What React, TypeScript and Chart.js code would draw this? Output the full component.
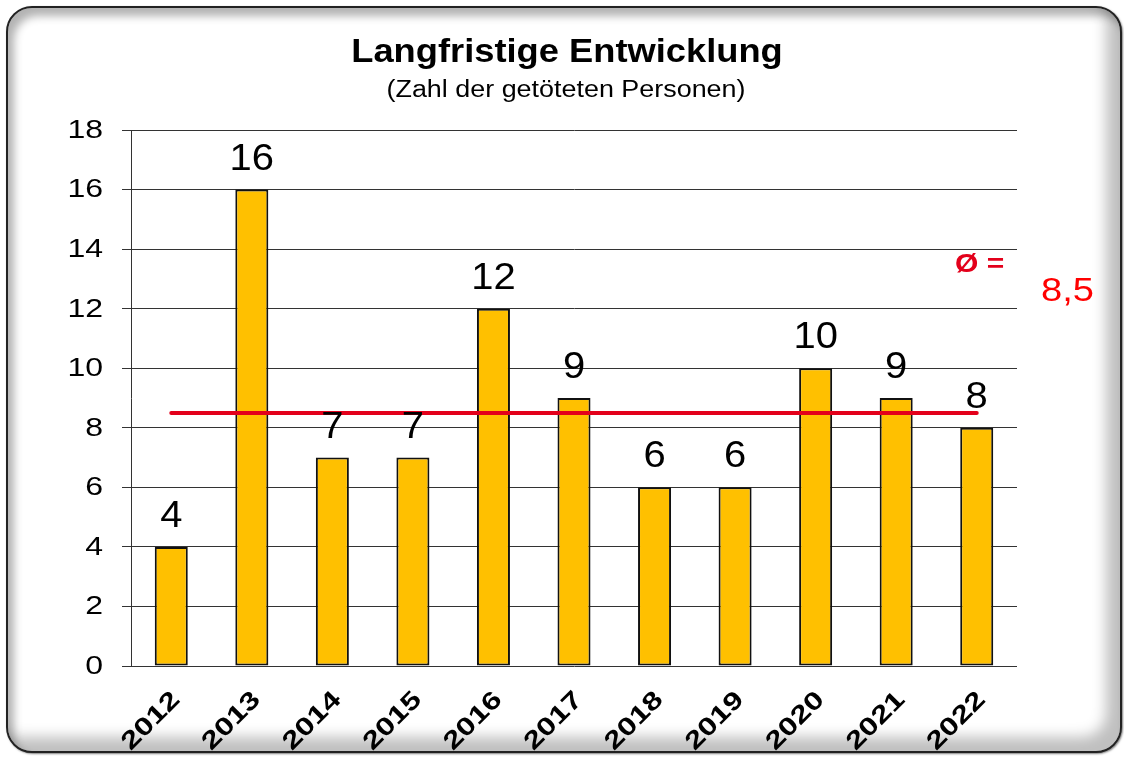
import React, { useEffect, useRef } from "react";
import { Chart, registerables } from "chart.js";

Chart.register(...registerables);

const years = ["2012", "2013", "2014", "2015", "2016", "2017", "2018", "2019", "2020", "2021", "2022"];
const killed = [4, 16, 7, 7, 12, 9, 6, 6, 10, 9, 8];
const averageLine = [8.5, 8.5, 8.5, 8.5, 8.5, 8.5, 8.5, 8.5, 8.5, 8.5, 8.5];
const averageLabel = "8,5";
const yTicks = [0, 2, 4, 6, 8, 10, 12, 14, 16, 18];
const titleText = "Langfristige Entwicklung";
const subtitleText = "(Zahl der getöteten Personen)";

const FONT = "Arial, 'Liberation Sans', sans-serif";

function drawText(
  ctx: CanvasRenderingContext2D,
  text: string,
  x: number,
  y: number,
  font: string,
  color: string,
  sx: number,
  align: CanvasTextAlign,
  baseline: CanvasTextBaseline,
  rot = 0
) {
  ctx.save();
  ctx.translate(x, y);
  if (rot) ctx.rotate(rot);
  ctx.scale(sx, 1);
  ctx.font = font;
  ctx.fillStyle = color;
  ctx.textAlign = align;
  ctx.textBaseline = baseline;
  ctx.fillText(text, 0, 0);
  ctx.restore();
}

const textPlugin = {
  id: "textPlugin",
  afterDraw(chart: any) {
    const ctx = chart.ctx as CanvasRenderingContext2D;
    const xs = chart.scales.x;
    const ys = chart.scales.y;
    drawText(ctx, titleText, 567, 62, `bold 33px ${FONT}`, "#000", 1.1, "center", "alphabetic");
    drawText(ctx, subtitleText, 566, 97, `23px ${FONT}`, "#000", 1.17, "center", "alphabetic");
    ys.ticks.forEach((t: any) => {
      const y = ys.getPixelForValue(t.value);
      drawText(ctx, String(t.value), 103, y + 1, `25px ${FONT}`, "#000", 1.28, "right", "middle");
    });
    years.forEach((lab, i) => {
      const x = xs.getPixelForValue(i);
      drawText(ctx, lab, x + 5, xs.top + 30, `bold 25px ${FONT}`, "#000", 1.28, "right", "middle", -Math.PI / 4);
    });
    const meta = chart.getDatasetMeta(0);
    meta.data.forEach((bar: any, i: number) => {
      drawText(ctx, String(killed[i]), bar.x, bar.y - 20, `37px ${FONT}`, "#000", 1.08, "center", "alphabetic");
    });
    drawText(ctx, "Ø =", 955, 272, `bold 25px ${FONT}`, "#E3001B", 1.2, "left", "alphabetic");
    drawText(ctx, averageLabel, 1041, 301, `34px ${FONT}`, "#FF0000", 1.12, "left", "alphabetic");
  },
};

export default function App() {
  const ref = useRef<HTMLCanvasElement | null>(null);
  useEffect(() => {
    if (!ref.current) return;
    const chart = new Chart(ref.current, {
      type: "bar",
      data: {
        labels: years,
        datasets: [
          {
            type: "bar",
            data: killed,
            backgroundColor: "#FFC000",
            borderColor: "#111",
            borderWidth: 2,
            borderSkipped: false,
            categoryPercentage: 1,
            barPercentage: 0.41,
            order: 1,
          },
          {
            type: "line",
            data: averageLine,
            borderColor: "#E3001B",
            borderWidth: 4,
            borderCapStyle: "round",
            pointRadius: 0,
            fill: false,
            order: 0,
          } as any,
        ],
      },
      options: {
        responsive: false,
        animation: false,
        devicePixelRatio: 1,
        layout: { padding: { top: 130, right: 107, left: 0, bottom: 0 } },
        plugins: { legend: { display: false }, tooltip: { enabled: false }, title: { display: false } },
        scales: {
          x: {
            grid: { display: false },
            border: { display: false },
            ticks: { display: false },
            afterFit: (s: any) => {
              s.height = 92;
            },
          },
          y: {
            min: 0,
            max: 18,
            afterBuildTicks: (s: any) => {
              s.ticks = yTicks.map((v) => ({ value: v }));
            },
            grid: { color: "#333", lineWidth: 1, drawTicks: true, tickLength: 9 },
            border: { display: true, color: "#333", width: 1 },
            ticks: { display: false },
            afterFit: (s: any) => {
              s.width = 131;
            },
          },
        },
      },
      plugins: [textPlugin],
    });
    return () => chart.destroy();
  }, []);

  return (
    <>
      <div
        style={{
          position: "fixed",
          left: 6,
          top: 6,
          width: 1116,
          height: 747,
          boxSizing: "border-box",
          border: "2px solid #222",
          borderRadius: 26,
          background: "#fff",
          boxShadow:
            "inset -14px -14px 14px rgba(0,0,0,0.25), inset 6px 8px 9px rgba(0,0,0,0.3), 1px 1px 2px rgba(0,0,0,0.5)",
        }}
      />
      <canvas
        ref={ref}
        width={1124}
        height={758}
        style={{ position: "fixed", left: 0, top: 0, width: 1124, height: 758 }}
      />
    </>
  );
}
